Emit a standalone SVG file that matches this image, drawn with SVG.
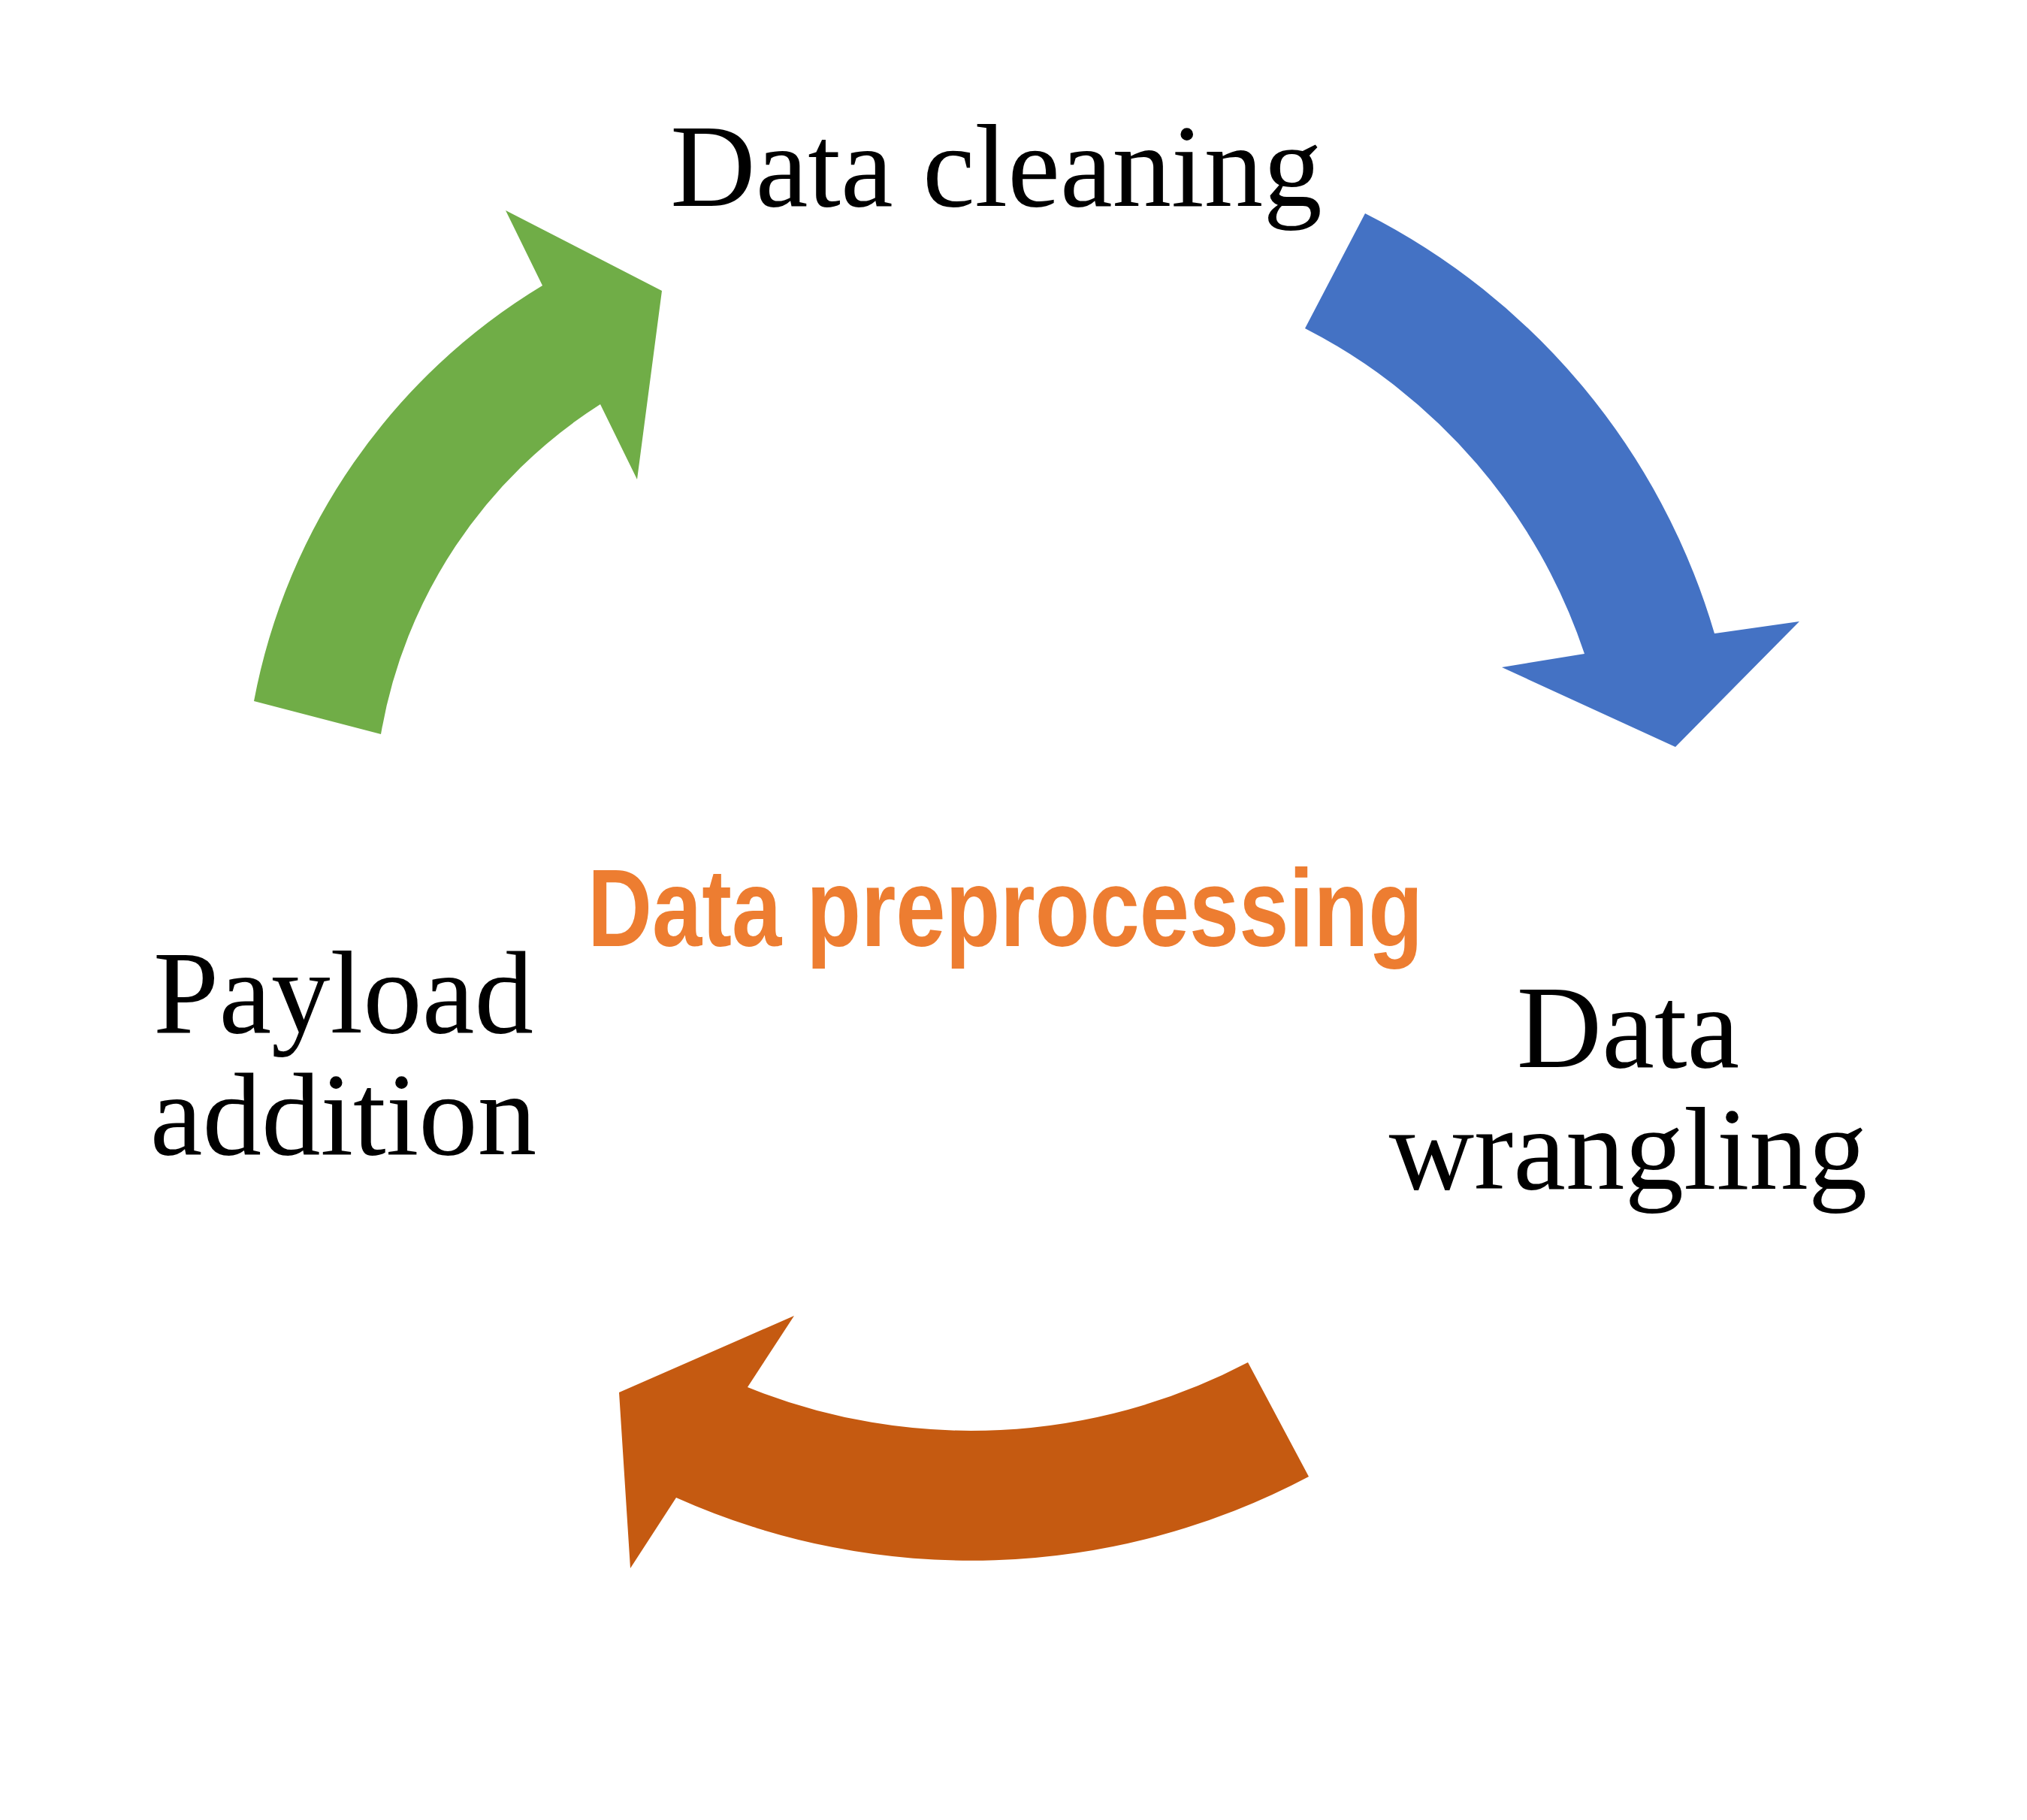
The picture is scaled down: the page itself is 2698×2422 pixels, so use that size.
<svg xmlns="http://www.w3.org/2000/svg" width="2698" height="2422" viewBox="0 0 2698 2422">
<style>
.lbl{font-family:"Liberation Serif","Times New Roman",serif;font-size:157px;fill:#000;text-anchor:middle}
.title{font-family:"Liberation Sans Narrow","Liberation Sans",Arial,sans-serif;font-weight:bold;font-size:147px;fill:#ED7D31}
</style>
<rect width="2698" height="2422" fill="#fff"/>
<g id="connectors">
<path id="arrow-cleaning-wrangling" fill="#4472C4" d="M 1817,284 A 915 915 0 0 1 2282,843 L 2395,827 L 2230,994 L 1999,888 L 2109,870 A 755 755 0 0 0 1737,437 Z"/>
<path id="arrow-wrangling-payload" fill="#C55A11" d="M 1742,1965 A 960 960 0 0 1 900,1993 L 839,2087 L 824,1853 L 1057,1751 L 995,1846 A 793 793 0 0 0 1661,1813 Z"/>
<path id="arrow-payload-cleaning" fill="#70AD47" d="M 338,933 A 824 824 0 0 1 722,380 L 673,280 L 881,387 L 848,638 L 799,538 A 650 650 0 0 0 507,977 Z"/>
</g>
<g id="node-center">
<text class="title" x="782" y="1259" textLength="1112" lengthAdjust="spacingAndGlyphs">Data preprocessing</text>
</g>
<g id="node-cleaning">
<text class="lbl" x="1326" y="274">Data cleaning</text>
</g>
<g id="node-wrangling">
<text class="lbl" x="2167" y="1420">Data</text>
<text class="lbl" x="2167" y="1582">wrangling</text>
</g>
<g id="node-payload">
<text class="lbl" x="457" y="1374">Payload</text>
<text class="lbl" x="457" y="1536">addition</text>
</g>
</svg>
